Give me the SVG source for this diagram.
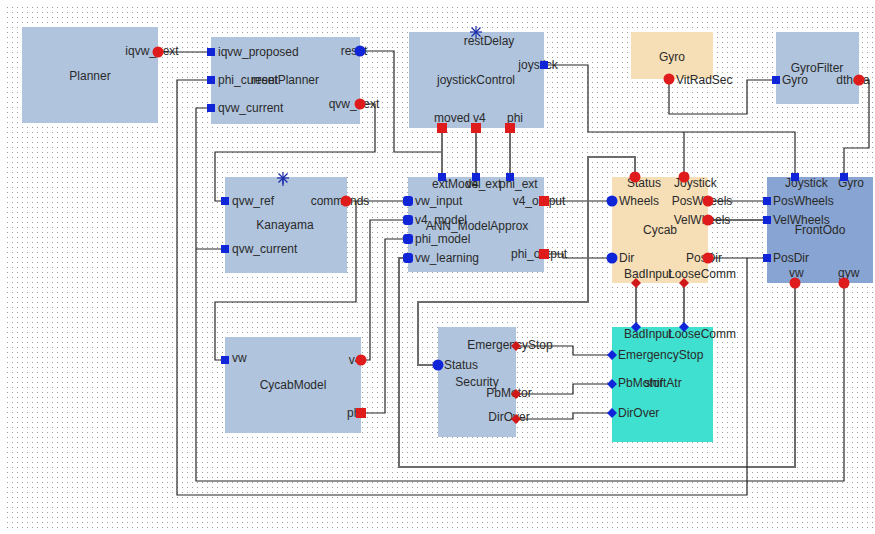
<svg xmlns="http://www.w3.org/2000/svg" width="875" height="534" viewBox="0 0 875 534">
<defs>
<pattern id="grid" x="0" y="0" width="5" height="5" patternUnits="userSpaceOnUse">
<rect x="2" y="2" width="1" height="1" fill="#9c9c9c"/>
</pattern>
<rect id="bs" x="-4" y="-4" width="8" height="8" fill="#1024d8"/>
<rect id="bq" x="-5" y="-5" width="10" height="10" rx="3" fill="#1024d8"/>
<circle id="bc" r="5.5" fill="#1024d8"/>
<circle id="rc" r="5.5" fill="#e01b1b"/>
<rect id="rs" x="-5" y="-5" width="10" height="10" fill="#e01b1b"/>
<path id="rd" d="M0,-5 L5,0 L0,5 L-5,0 Z" fill="#d01818"/>
<path id="bd" d="M0,-5 L5,0 L0,5 L-5,0 Z" fill="#1024d8"/>
<g id="star" stroke="#1a2aa8" stroke-width="1.2">
<line x1="-6" y1="0" x2="6" y2="0"/><line x1="0" y1="-6" x2="0" y2="6"/>
<line x1="-4.5" y1="-4.5" x2="4.5" y2="4.5"/><line x1="-4.5" y1="4.5" x2="4.5" y2="-4.5"/>
</g>
</defs>
<style>
text{font-family:"Liberation Sans",Arial,sans-serif;font-size:12px;fill:#2a2a2a}
.m{text-anchor:middle}
.blue{fill:#b0c4de}
.dblue{fill:#88a4d2}
.wheat{fill:#f6deb6}
.cyan{fill:#3fe0cf}
#connectors path{fill:none;stroke:#262626;stroke-width:1.2}
#connectors path.g{stroke:#6c6c6c;stroke-width:2}
</style>
<rect width="875" height="534" fill="#ffffff"/>
<rect x="4" y="4" width="869" height="527" fill="url(#grid)"/>

<g id="connectors">
<path d="M158,52 H211"/>
<path d="M360,51 H394 V152 H442"/>
<path d="M360,104 H375 V152 H215 V201 H225"/>
<path class="g" d="M442,128 V177"/>
<path class="g" d="M476,128 V177"/>
<path class="g" d="M510,128 V177"/>
<path d="M346,201 H408"/>
<path d="M356,201 V302 H215 V360 H225"/>
<path d="M361,360 H370 V220 H408"/>
<path d="M361,413 H385 V239 H408"/>
<path class="g" d="M795,283 V467 H399 V258 H408"/>
<path d="M844,283 V481 H196 V108 H211 M196,249 H225"/>
<path d="M708,258 H767 M747,258 V495 H177 V80 H211"/>
<path d="M544,201 H612"/>
<path d="M544,254 H563 V258 H612"/>
<path class="g" d="M635,177 V157 H588 V302 H418 V365 H438"/>
<path d="M544,65 H588 V132 H795 V177 M684,132 V177"/>
<path d="M669,79 V114 H747 V80 H776"/>
<path d="M859,80 H869 V148 H844 V177"/>
<path d="M708,201 H767"/>
<path class="g" d="M708,220 H767"/>
<path class="g" d="M636,283 V327 M684,283 V327"/>
<path d="M516,346 H573 V355 H612"/>
<path d="M516,394 H573 V384 H612"/>
<path d="M516,419 H573 V413 H612"/>
</g>

<g id="Planner">
<rect class="blue" x="22" y="27" width="136" height="96"/>
<text class="m" x="90" y="80">Planner</text>
<text class="m" x="152" y="55">iqvw_next</text>
<use href="#rc" x="158" y="52"/>
</g>

<g id="resetPlanner">
<rect class="blue" x="211" y="37" width="149" height="87"/>
<text class="m" x="285" y="84">resetPlanner</text>
<text x="218" y="56">iqvw_proposed</text>
<text x="218" y="84">phi_current</text>
<text x="218" y="112">qvw_current</text>
<text class="m" x="354" y="55">reset</text>
<text class="m" x="354" y="108">qvw_next</text>
<use href="#bs" x="211" y="52"/>
<use href="#bs" x="211" y="80"/>
<use href="#bs" x="211" y="108"/>
<use href="#bc" x="360" y="51"/>
<use href="#rc" x="360" y="104"/>
</g>

<g id="joystickControl">
<rect class="blue" x="409" y="32" width="135" height="96"/>
<text class="m" x="476" y="84">joystickControl</text>
<text class="m" x="489" y="45">restDelay</text>
<use href="#star" x="476" y="32"/>
<text class="m" x="538" y="69">joystick</text>
<text x="434" y="122">moved</text>
<text x="473" y="122">v4</text>
<text x="507" y="122">phi</text>
<use href="#bs" x="544" y="65"/>
<use href="#rs" x="442" y="128"/>
<use href="#rs" x="476" y="128"/>
<use href="#rs" x="510" y="128"/>
</g>

<g id="Gyro">
<rect class="wheat" x="631" y="32" width="82" height="47"/>
<text class="m" x="672" y="61">Gyro</text>
<text x="676" y="84">VitRadSec</text>
<use href="#rc" x="669" y="79"/>
</g>

<g id="GyroFilter">
<rect class="blue" x="776" y="32" width="83" height="72"/>
<text class="m" x="817" y="72">GyroFilter</text>
<text x="782" y="84">Gyro</text>
<text class="m" x="853" y="84">dtheta</text>
<use href="#bs" x="776" y="80"/>
<use href="#rc" x="859" y="80"/>
</g>

<g id="Kanayama">
<rect class="blue" x="225" y="177" width="122" height="96"/>
<text class="m" x="285" y="229">Kanayama</text>
<use href="#star" x="283" y="178"/>
<line x1="283" y1="178" x2="283" y2="186" stroke="#1a2aa8" stroke-width="1.2"/>
<text x="232" y="205">qvw_ref</text>
<text x="232" y="253">qvw_current</text>
<text class="m" x="340" y="205">commands</text>
<use href="#bs" x="225" y="201"/>
<use href="#bs" x="225" y="249"/>
<use href="#rc" x="346" y="201"/>
</g>

<g id="ANN_ModelApprox">
<rect class="blue" x="408" y="177" width="136" height="95"/>
<text class="m" x="477" y="230">ANN_ModelApprox</text>
<text x="432" y="188">extModel</text>
<text x="466" y="188">v4_ext</text>
<text x="499" y="188">phi_ext</text>
<text x="415" y="205">vw_input</text>
<text x="415" y="224">v4_model</text>
<text x="415" y="243">phi_model</text>
<text x="415" y="262">vw_learning</text>
<text class="m" x="539" y="205">v4_output</text>
<text class="m" x="539" y="258">phi_output</text>
<use href="#bs" x="442" y="177"/>
<use href="#bs" x="476" y="177"/>
<use href="#bs" x="510" y="177"/>
<use href="#bq" x="408" y="201"/>
<use href="#bq" x="408" y="220"/>
<use href="#bq" x="408" y="239"/>
<use href="#bq" x="408" y="258"/>
<use href="#rs" x="544" y="201"/>
<use href="#rs" x="544" y="254"/>
</g>

<g id="Cycab">
<rect class="wheat" x="612" y="177" width="96" height="106"/>
<text class="m" x="660" y="234">Cycab</text>
<text x="627" y="187">Status</text>
<text x="674" y="187">Joystick</text>
<text x="619" y="205">Wheels</text>
<text x="619" y="262">Dir</text>
<text class="m" x="702" y="205">PosWheels</text>
<text class="m" x="702" y="224">VelWheels</text>
<text class="m" x="704" y="262">PosDir</text>
<text x="624" y="278">BadInput</text>
<text x="668" y="278">LooseComm</text>
<use href="#rc" x="635" y="177"/>
<use href="#rc" x="684" y="177"/>
<use href="#bc" x="612" y="201"/>
<use href="#bc" x="612" y="258"/>
<use href="#rc" x="708" y="201"/>
<use href="#rc" x="708" y="220"/>
<use href="#rc" x="708" y="258"/>
<use href="#rd" x="636" y="283"/>
<use href="#rd" x="684" y="283"/>
</g>

<g id="FrontOdo">
<rect class="dblue" x="767" y="177" width="106" height="106"/>
<text class="m" x="820" y="234">FrontOdo</text>
<text x="785" y="187">Joystick</text>
<text x="838" y="187">Gyro</text>
<text x="773" y="205">PosWheels</text>
<text x="773" y="224">VelWheels</text>
<text x="773" y="262">PosDir</text>
<text x="789" y="277">vw</text>
<text x="838" y="277">gyw</text>
<use href="#bs" x="795" y="177"/>
<use href="#bs" x="844" y="177"/>
<use href="#bs" x="767" y="201"/>
<use href="#bs" x="767" y="220"/>
<use href="#bs" x="767" y="258"/>
<use href="#rc" x="795" y="283"/>
<use href="#rc" x="844" y="283"/>
</g>

<g id="CycabModel">
<rect class="blue" x="225" y="337" width="136" height="96"/>
<text class="m" x="293" y="389">CycabModel</text>
<text x="232" y="362">vw</text>
<text class="m" x="355" y="364">v4</text>
<text class="m" x="355" y="417">phi</text>
<use href="#bs" x="225" y="360"/>
<use href="#rc" x="361" y="360"/>
<use href="#rs" x="361" y="413"/>
</g>

<g id="Security">
<rect class="blue" x="438" y="327" width="78" height="110"/>
<text class="m" x="477" y="386">Security</text>
<text x="444" y="369">Status</text>
<text class="m" x="510" y="349">EmergencyStop</text>
<text class="m" x="509" y="397">PbMotor</text>
<text class="m" x="509" y="421">DirOver</text>
<use href="#bc" x="438" y="365"/>
<use href="#rd" x="516" y="346"/>
<use href="#rd" x="516" y="394"/>
<use href="#rd" x="516" y="419"/>
</g>

<g id="shiftAtr">
<rect class="cyan" x="612" y="327" width="101" height="115"/>
<text class="m" x="663" y="387">shiftAtr</text>
<text x="624" y="338">BadInput</text>
<text x="668" y="338">LooseComm</text>
<text x="618" y="359">EmergencyStop</text>
<text x="618" y="387">PbMotor</text>
<text x="618" y="417">DirOver</text>
<use href="#bd" x="636" y="327"/>
<use href="#bd" x="684" y="327"/>
<use href="#bd" x="612" y="355"/>
<use href="#bd" x="612" y="384"/>
<use href="#bd" x="612" y="413"/>
</g>
</svg>
